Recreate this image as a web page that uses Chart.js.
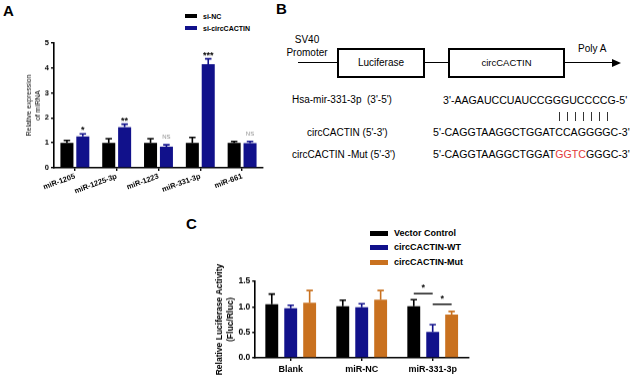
<!DOCTYPE html>
<html>
<head>
<meta charset="utf-8">
<script src="https://cdn.jsdelivr.net/npm/chart.js@4.4.1/dist/chart.umd.min.js"></script>
<style>
    body { margin: 0; width: 631px; height: 381px; position: relative; overflow: hidden; background: #fff;
           font-family: "Liberation Sans", Arial, sans-serif; color: #000; }
    .abs { position: absolute; white-space: nowrap; line-height: 1; }
    .panel { font-weight: bold; font-size: 15px; }
    .box { position: absolute; border: 2px solid #000; box-sizing: border-box; background: #fff; }
    .leg { position: absolute; font-weight: bold; white-space: nowrap; }
    .leg i { position: absolute; left: 0; }
    .wrap { position: absolute; }
    .pair { position: absolute; width: 1px; height: 9px; background: #333; }
</style>
</head>
<body>

<!-- panel labels -->
<div class="abs panel" style="left:3px;top:3px">A</div>
<div class="abs panel" style="left:276px;top:1px">B</div>
<div class="abs panel" style="left:186px;top:216px">C</div>

<!-- ================= PANEL A ================= -->
<div id="legendA"></div>
<div class="wrap" id="wrapA" style="left:0px;top:33px;width:268px;height:175px"><canvas id="chartA"></canvas></div>

<!-- ================= PANEL B (construct diagram) ================= -->
<div class="abs" style="left:285px;top:33px;font-size:10px;text-align:center;width:44px;line-height:13px">SV40<br>Promoter</div>
<div style="position:absolute;left:298px;top:62px;width:316px;height:1.4px;background:#000"></div>
<div style="position:absolute;left:612px;top:59px;width:0;height:0;border-top:4px solid transparent;border-bottom:4px solid transparent;border-left:9px solid #000"></div>
<div class="box" style="left:337px;top:48px;width:88px;height:30px"></div>
<div class="box" style="left:448px;top:48px;width:117px;height:30px"></div>
<div class="abs" style="left:337px;top:58px;width:88px;text-align:center;font-size:10px">Luciferase</div>
<div class="abs" style="left:448px;top:58px;width:117px;text-align:center;font-size:9.5px">circCACTIN</div>
<div class="abs" style="left:578px;top:44px;font-size:10px">Poly A</div>

<div class="abs" style="left:292px;top:95px;font-size:10px">Hsa-mir-331-3p&nbsp; (3'-5')</div>
<div class="abs" style="left:443px;top:95px;font-size:10.6px">3'-AAGAUCCUAUCCGGGUCCCCG-5'</div>
<div id="pairs"></div>
<div class="abs" style="left:307px;top:128px;font-size:10px">circCACTIN (5'-3')</div>
<div class="abs" style="left:433px;top:127px;font-size:10.6px">5'-CAGGTAAGGCTGGATCCAGGGGC-3'</div>
<div class="abs" style="left:292px;top:150px;font-size:10px">circCACTIN -Mut (5'-3')</div>
<div class="abs" style="left:433px;top:149px;font-size:10.6px">5'-CAGGTAAGGCTGGAT<span style="color:#e23a3a">GGTC</span>GGGC-3'</div>

<!-- ================= PANEL C ================= -->
<div id="legendC"></div>
<div class="wrap" id="wrapC" style="left:185px;top:240px;width:290px;height:141px"><canvas id="chartC"></canvas></div>

<script>
// ================= DATA A =================
const catsA = ["miR-1205", "miR-1225-3p", "miR-1223", "miR-331-3p", "miR-661"];
const seriesA = ["si-NC", "si-circCACTIN"];
const ncA = [1.0, 1.0, 1.0, 1.0, 1.0];
const ncErrA = [0.1, 0.17, 0.17, 0.22, 0.06];
const circA = [1.26, 1.63, 0.85, 4.15, 0.99];
const circErrA = [0.1, 0.12, 0.07, 0.22, 0.07];
const sigA = ["*", "**", "NS", "***", "NS"];
const ticksA = [0, 1, 2, 3, 4, 5];

// ================= DATA C =================
const catsC = ["Blank", "miR-NC", "miR-331-3p"];
const seriesC = ["Vector Control", "circCACTIN-WT", "circCACTIN-Mut"];
const vcC = [1.05, 1.01, 1.01];
const vcErrC = [0.2, 0.12, 0.13];
const wtC = [0.97, 0.99, 0.51];
const wtErrC = [0.06, 0.07, 0.14];
const mutC = [1.08, 1.14, 0.85];
const mutErrC = [0.24, 0.18, 0.06];
const ticksC = [0, 0.5, 1.0, 1.5];
// significance brackets: dataset a -> dataset b, in category, at level
const sigC = [
    { cat: 2, a: 0, b: 1, level: 1.26, text: "*" },
    { cat: 2, a: 1, b: 2, level: 1.05, text: "*" }
];

const BLACK = "#000000";
const BLUE = "#11118b";
const ORANGE = "#c9711f";
const FONT = "'Liberation Sans', Arial, sans-serif";

Chart.defaults.font.family = FONT;
Chart.defaults.color = "#000";

// ================= PLUGINS =================
const errorBars = {
    id: "errorBars",
    afterDatasetsDraw(chart) {
        const ctx = chart.ctx;
        const y = chart.scales.y;
        chart.data.datasets.forEach((ds, i) => {
            const meta = chart.getDatasetMeta(i);
            meta.data.forEach((bar, j) => {
                const y0 = y.getPixelForValue(ds.data[j]);
                const y1 = y.getPixelForValue(ds.data[j] + ds.errors[j]);
                const cap = bar.width * 0.25;
                ctx.save();
                ctx.strokeStyle = ds.backgroundColor;
                ctx.lineWidth = 1.6;
                ctx.beginPath();
                ctx.moveTo(bar.x, y0);
                ctx.lineTo(bar.x, y1);
                ctx.moveTo(bar.x - cap, y1);
                ctx.lineTo(bar.x + cap, y1);
                ctx.stroke();
                ctx.restore();
            });
        });
    }
};

const sigLabels = {
    id: "sigLabels",
    afterDatasetsDraw(chart) {
        const ctx = chart.ctx;
        const y = chart.scales.y;
        chart.data.datasets.forEach((ds, i) => {
            if (!ds.sig) return;
            const meta = chart.getDatasetMeta(i);
            meta.data.forEach((bar, j) => {
                const t = ds.sig[j];
                const top = y.getPixelForValue(ds.data[j] + ds.errors[j]);
                ctx.save();
                ctx.textAlign = "center";
                ctx.textBaseline = "alphabetic";
                if (t === "NS") {
                    ctx.fillStyle = "#8a8a8a";
                    ctx.font = "6px " + FONT;
                    ctx.fillText(t, bar.x, top - 6);
                } else {
                    ctx.fillStyle = "#000";
                    ctx.font = "bold 9px " + FONT;
                    ctx.fillText(t, bar.x, top - 1);
                }
                ctx.restore();
            });
        });
    }
};

const brackets = {
    id: "brackets",
    afterDatasetsDraw(chart, args, opts) {
        const ctx = chart.ctx;
        const y = chart.scales.y;
        (opts.items || []).forEach(b => {
            const xa = chart.getDatasetMeta(b.a).data[b.cat].x;
            const xb = chart.getDatasetMeta(b.b).data[b.cat].x;
            const yy = y.getPixelForValue(b.level);
            ctx.save();
            ctx.strokeStyle = "#000";
            ctx.lineWidth = 1.4;
            ctx.beginPath();
            ctx.moveTo(xa, yy);
            ctx.lineTo(xb, yy);
            ctx.stroke();
            ctx.fillStyle = "#000";
            ctx.font = "bold 9px " + FONT;
            ctx.textAlign = "center";
            ctx.fillText(b.text, (xa + xb) / 2, yy - 3);
            ctx.restore();
        });
    }
};

// ================= HTML LEGENDS =================
function legend(id, names, colors, x, y0, dy, bw, bh, fs) {
    const el = document.getElementById(id);
    names.forEach((n, i) => {
        const d = document.createElement("div");
        d.className = "leg";
        d.style.left = x + "px";
        d.style.top = (y0 + i * dy - fs / 2) + "px";
        d.style.fontSize = fs + "px";
        d.style.lineHeight = fs + "px";
        d.style.paddingLeft = (bw + 6) + "px";
        d.innerHTML = '<i style="top:' + (fs - bh) / 2 + 'px;width:' + bw + 'px;height:' + bh + 'px;background:' + colors[i] + '"></i>' + n;
        el.appendChild(d);
    });
}
legend("legendA", seriesA, [BLACK, BLUE], 185, 16, 12, 12, 4, 7);
legend("legendC", seriesC, [BLACK, BLUE, ORANGE], 370, 233, 14.5, 18, 5, 9);

// base-pairing ticks between the two sequences
for (let k = 0; k < 7; k++) {
    const p = document.createElement("div");
    p.className = "pair";
    p.style.left = (559 + k * 8) + "px";
    p.style.top = "112px";
    document.getElementById("pairs").appendChild(p);
}

// ================= AXES =================
function axes(opt) {
    return {
        x: {
            grid: { offset: false, drawOnChartArea: false, drawTicks: true, tickLength: 3, color: "#000", lineWidth: 1.4 },
            border: { color: "#000", width: 1.6 },
            ticks: { font: { size: opt.xfs, weight: "bold" }, minRotation: opt.rot, maxRotation: opt.rot, padding: opt.xpad, color: "#000" }
        },
        y: {
            min: opt.ticks[0],
            max: opt.ticks[opt.ticks.length - 1],
            afterBuildTicks: s => { s.ticks = opt.ticks.map(v => ({ value: v })); },
            grid: { drawOnChartArea: false, drawTicks: true, tickLength: 3, color: "#000", lineWidth: 1.4 },
            border: { color: "#000", width: 1.6 },
            ticks: { font: { size: opt.yfs, weight: "bold" }, padding: 2, color: "#000", callback: opt.fmt },
            title: { display: true, text: opt.title, font: { size: opt.tfs, weight: opt.tw }, padding: 1, color: "#000" }
        }
    };
}

// move / resize the wrapper so the plot area lands on the target box
function placeArea(chart, wrap, t) {
    for (let k = 0; k < 3; k++) {
        const ca = chart.chartArea;
        const w = parseFloat(wrap.style.width), h = parseFloat(wrap.style.height);
        wrap.style.left = (parseFloat(wrap.style.left) + t.left - (parseFloat(wrap.style.left) + ca.left)) + "px";
        wrap.style.top = (t.top - ca.top) + "px";
        wrap.style.width = (w + (t.right - t.left) - (ca.right - ca.left)) + "px";
        wrap.style.height = (h + (t.bottom - t.top) - (ca.bottom - ca.top)) + "px";
        chart.resize();
    }
}

// ================= CHART A =================
const chartA = new Chart(document.getElementById("chartA"), {
    type: "bar",
    data: {
        labels: catsA,
        datasets: [
            { label: seriesA[0], data: ncA, errors: ncErrA, backgroundColor: BLACK },
            { label: seriesA[1], data: circA, errors: circErrA, sig: sigA, backgroundColor: BLUE }
        ]
    },
    options: {
        responsive: true,
        maintainAspectRatio: false,
        animation: false,
        categoryPercentage: 0.76,
        barPercentage: 0.82,
        layout: { padding: { top: 8, right: 5, left: 0, bottom: 0 } },
        plugins: { legend: { display: false }, tooltip: { enabled: false } },
        scales: axes({ ticks: ticksA, rot: 20, xfs: 7.5, yfs: 7.5, tfs: 7, tw: "normal", xpad: 1,
                       title: ["Relative expression", "of miRNA"], fmt: v => v })
    },
    plugins: [errorBars, sigLabels]
});
placeArea(chartA, document.getElementById("wrapA"), { left: 54, top: 43, right: 263, bottom: 167 });

// ================= CHART C =================
const chartC = new Chart(document.getElementById("chartC"), {
    type: "bar",
    data: {
        labels: catsC,
        datasets: [
            { label: seriesC[0], data: vcC, errors: vcErrC, backgroundColor: BLACK },
            { label: seriesC[1], data: wtC, errors: wtErrC, backgroundColor: BLUE },
            { label: seriesC[2], data: mutC, errors: mutErrC, backgroundColor: ORANGE }
        ]
    },
    options: {
        responsive: true,
        maintainAspectRatio: false,
        animation: false,
        categoryPercentage: 0.8,
        barPercentage: 0.68,
        layout: { padding: { top: 40, right: 7, left: 0, bottom: 0 } },
        plugins: { legend: { display: false }, tooltip: { enabled: false }, brackets: { items: sigC } },
        scales: axes({ ticks: ticksC, rot: 0, xfs: 9, yfs: 8.5, tfs: 8.5, tw: "bold", xpad: 3,
                       title: ["Relative Luciferase Activity", "(Fluc/Rluc)"], fmt: v => v.toFixed(1) })
    },
    plugins: [errorBars, brackets]
});
placeArea(chartC, document.getElementById("wrapC"), { left: 255, top: 281, right: 468, bottom: 357 });
</script>
</body>
</html>
